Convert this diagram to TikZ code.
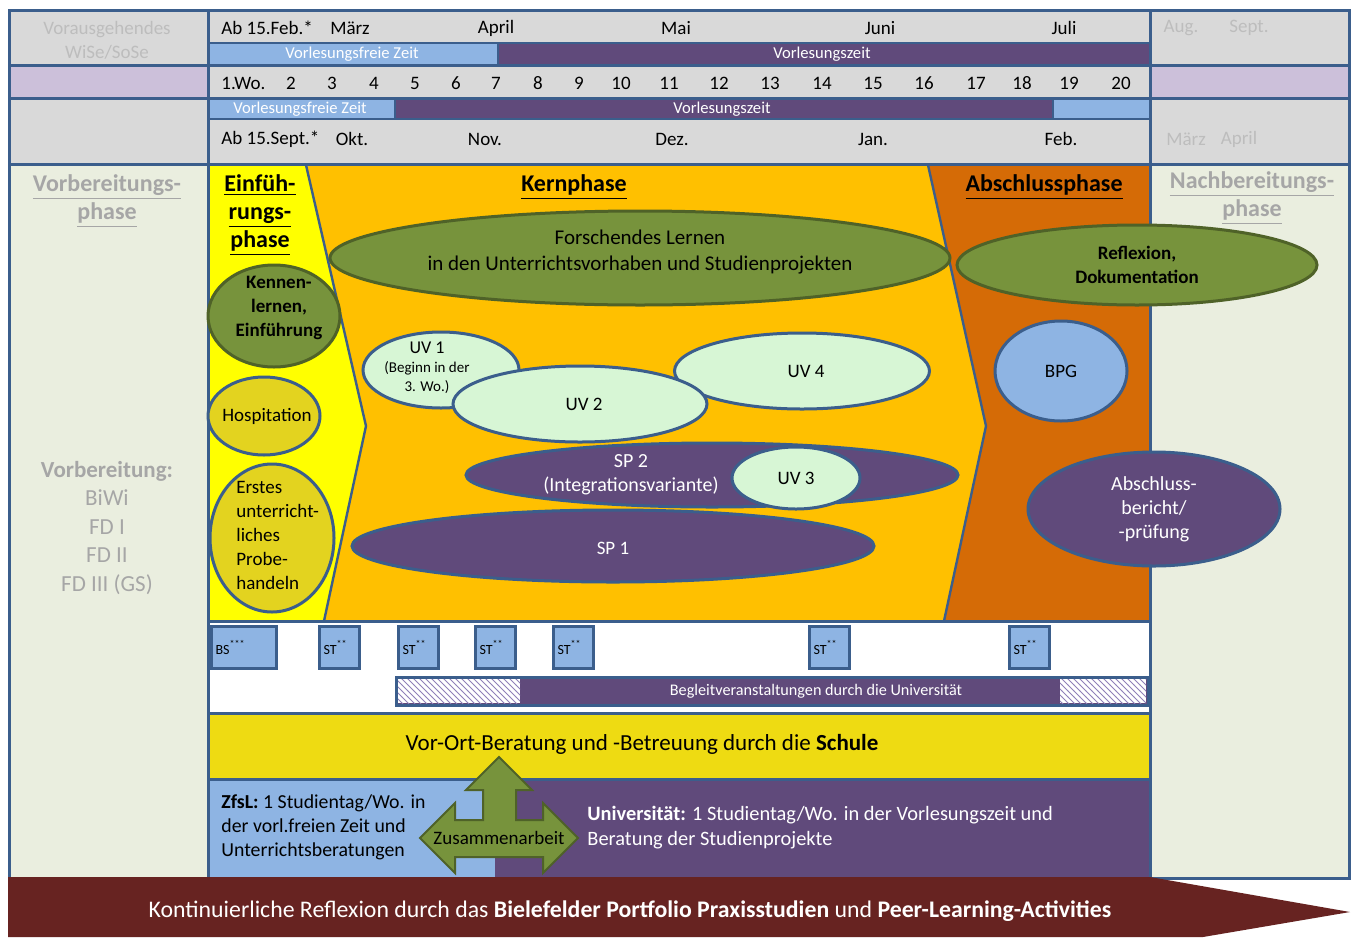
\documentclass[tikz,border=0pt]{standalone}
\usepackage{fontspec}
\setmainfont{Carlito}
\usepackage{tikz}
\usetikzlibrary{shapes.geometric, patterns}

\definecolor{rahmen}{HTML}{3B5E8C}
\definecolor{kopfgrau}{HTML}{D9D9D9}
\definecolor{seite}{HTML}{EAEEDF}
\definecolor{flieder}{HTML}{CCC0DA}
\definecolor{hellblau}{HTML}{8EB4E3}
\definecolor{lila}{HTML}{604A7B}
\definecolor{einfgelb}{HTML}{FFFF00}
\definecolor{kernorange}{HTML}{FFC000}
\definecolor{abschlussorange}{HTML}{D56B06}
\definecolor{gruen}{HTML}{77933C}
\definecolor{gruenrand}{HTML}{4F6228}
\definecolor{mint}{HTML}{D7F6D5}
\definecolor{ocker}{HTML}{E3D31F}
\definecolor{schulgelb}{HTML}{EEDB12}
\definecolor{dunkelrot}{HTML}{672321}
\definecolor{grautext}{HTML}{A6A6A6}
\definecolor{hellgrautext}{HTML}{BDBDBD}
\definecolor{schraffur}{HTML}{8F80B8}

\begin{document}
\begin{tikzpicture}[x = 0.5pt, y = -0.5pt,
    every node/.style = { inner sep = 0pt, align = center, font = \fontsize{9.5}{11.5}\selectfont },
    rand/.style = { draw = rahmen, line width = 1.5pt },
    blase/.style = { shape = ellipse, draw = rahmen, line width = 1.5pt, inner sep = 0pt },
    gblase/.style = { blase, draw = gruenrand, fill = gruen },
    kasten/.style = { draw = rahmen, line width = 1.5pt, fill = hellblau, inner xsep = 2pt,
      minimum height = 21pt, text width = 16pt, align = left, font = \fontsize{7}{8}\selectfont },
    balkentext/.style = { text = white, font = \fontsize{8.3}{10}\selectfont },
    grau/.style = { text = grautext },
    titel/.style = { font = \fontsize{12}{14}\selectfont\bfseries }
  ]
  \useasboundingbox (0,0) rectangle (1352,937);
  \fill[white] (0,0) rectangle (1352,937);

  \fill[kopfgrau] (9,10) rectangle (1349,164);
  \fill[flieder] (9,66) rectangle (208,98);
  \fill[flieder] (1150,66) rectangle (1349,98);
  \fill[seite] (9,165) rectangle (208,878);
  \fill[seite] (1150,165) rectangle (1349,878);

  \filldraw[hellblau, draw = rahmen, line width = 0.8pt] (209,43) rectangle (498,65);
  \filldraw[lila, draw = rahmen, line width = 0.8pt] (498,43) rectangle (1150,65);
  \filldraw[hellblau, draw = rahmen, line width = 0.8pt] (209,99) rectangle (395,119);
  \filldraw[lila, draw = rahmen, line width = 0.8pt] (395,99) rectangle (1053,119);
  \filldraw[hellblau, draw = rahmen, line width = 0.8pt] (1053,99) rectangle (1150,119);

  \fill[einfgelb] (209,165) -- (306,165) -- (366,426) -- (324,621) -- (209,621) -- cycle;
  \fill[kernorange] (306,165) -- (928,165) -- (986,426) -- (944,621) -- (324,621) -- (366,426) -- cycle;
  \fill[abschlussorange] (928,165) -- (1150,165) -- (1150,621) -- (944,621) -- (986,426) -- cycle;
  \draw[rahmen, line width = 1.2pt] (306,165) -- (366,426) -- (324,621);
  \draw[rahmen, line width = 1.2pt] (928,165) -- (986,426) -- (944,621);

  \fill[schulgelb] (209,714) rectangle (1150,779);
  \fill[hellblau] (209,779) rectangle (495,877);
  \fill[lila] (495,779) rectangle (1150,877);

  \filldraw[lila, draw = rahmen, line width = 1.5pt] (396,677) rectangle (1148,705);
  \fill[white] (398,679) rectangle (520,703);
  \fill[pattern = north west lines, pattern color = schraffur] (398,679) rectangle (520,703);
  \fill[white] (1060,679) rectangle (1146,703);
  \fill[pattern = north west lines, pattern color = schraffur] (1060,679) rectangle (1146,703);

  \draw[rand] (9,10) rectangle (1349,878);
  \draw[rand] (9,65.5) -- (1349,65.5);
  \draw[rand] (9,98.5) -- (1349,98.5);
  \draw[rand] (9,164.5) -- (1349,164.5);
  \draw[rand] (208.5,10) -- (208.5,878);
  \draw[rand] (1150.5,10) -- (1150.5,878);
  \draw[rand] (208.5,621) -- (1150.5,621);
  \draw[rand] (208.5,713) -- (1150.5,713);
  \draw[rand] (208.5,779) -- (1150.5,779);

  \fill[dunkelrot] (8,877) -- (1150,877) -- (1350,912) -- (1203,937) -- (8,937) -- cycle;

  \node[text = hellgrautext, font = \fontsize{9.5}{12}\selectfont] (vorausgehend) at (107,40) {Vorausgehendes\\WiSe/SoSe};
  \node[text = hellgrautext] (aug) at (1181,28) {Aug.};
  \node[text = hellgrautext] (sept) at (1249,28) {Sept.};
  \node[text = hellgrautext] (maerz2) at (1186,139) {März};
  \node[text = hellgrautext] (april2) at (1239,139) {April};

  \node[anchor = west] (ab-feb) at (221,28) {Ab 15.Feb.*};
  \foreach \mon/\txt/\xpos in {mrz/März/350, apr/April/496, mai/Mai/676, jun/Juni/880, jul/Juli/1064}
    \node (monat-\mon) at (\xpos,28) {\txt};
  \node[balkentext] (frei-oben) at (352,54) {Vorlesungsfreie Zeit};
  \node[balkentext] (vl-oben) at (822,54) {Vorlesungszeit};

  \node[anchor = west] (woche1) at (221,83) {1.Wo.};
  \foreach \nr/\xpos in {2/291, 3/332, 4/374, 5/415, 6/456, 7/496, 8/538, 9/579, 10/621, 11/669,
      12/719, 13/770, 14/822, 15/873, 16/924, 17/976, 18/1022, 19/1069, 20/1121}
    \node (woche\nr) at (\xpos,83) {\nr};

  \node[balkentext] (frei-unten) at (300,109) {Vorlesungsfreie Zeit};
  \node[balkentext] (vl-unten) at (722,109) {Vorlesungszeit};
  \node[anchor = west] (ab-sept) at (221,139) {Ab 15.Sept.*};
  \foreach \mon/\txt/\xpos in {okt/Okt./352, nov/Nov./485, dez/Dez./672, jan/Jan./873, feb/Feb./1061}
    \node (monat-\mon) at (\xpos,139) {\txt};

  \node[grau, titel] (vorbereitungsphase) at (107,201) {\underline{Vorbereitungs-}\\\underline{phase}};
  \node[grau, titel] (nachbereitungsphase) at (1252,198) {\underline{Nachbereitungs-}\\\underline{phase}};
  \node[grau, font = \fontsize{11.5}{14.25}\selectfont] (vorbereitung) at (107,528)
    {\textbf{Vorbereitung:}\\BiWi\\FD I\\FD II\\FD III (GS)};

  \node[titel] (einfuehrung) at (260,215) {\underline{Einfüh-}\\\underline{rungs-}\\\underline{phase}};
  \node[titel] (kernphase) at (574,187) {\underline{Kernphase}};
  \node[titel] (abschlussphase) at (1044,187) {\underline{Abschlussphase}};

  \node[gblase, minimum width = 310pt, minimum height = 47pt,
    label = {[yshift = 3pt, font = \fontsize{10.5}{13}\selectfont]center:{Forschendes Lernen\\in den Unterrichtsvorhaben und Studienprojekten}}]
    (forschen) at (640,258) {};
  \node[gblase, minimum width = 180pt, minimum height = 40pt,
    label = {[font = \fontsize{9.5}{12}\selectfont\bfseries]center:{Reflexion,\\Dokumentation}}]
    (reflexion) at (1137,265) {};
  \node[gblase, minimum width = 66pt, minimum height = 51pt,
    label = {[xshift = 2.5pt, yshift = 4pt, font = \fontsize{9.5}{11.8}\selectfont\bfseries]center:{Kennen-\\lernen,\\Einführung}}]
    (kennen) at (274,316) {};
  \node[blase, fill = ocker, minimum width = 56pt, minimum height = 39pt,
    label = {[xshift = 1.5pt]center:Hospitation}] (hospitation) at (264,416) {};
  \node[blase, fill = ocker, minimum width = 62pt, minimum height = 74pt] (probehandeln) at (272,538) {};
  \node[anchor = west, align = left, font = \fontsize{9.5}{12}\selectfont] (probehandeln-text) at (236,535)
    {Erstes\\unterricht-\\liches\\Probe-\\handeln};

  \node[blase, fill = mint, minimum width = 127.5pt, minimum height = 38pt,
    label = {[xshift = 2pt]center:UV 4}] (uv4) at (802,371) {};
  \node[blase, fill = mint, minimum width = 78pt, minimum height = 38pt,
    label = {[xshift = -7pt, yshift = 1pt, font = \fontsize{7.5}{9.5}\selectfont]center:{{\fontsize{9}{11}\selectfont UV 1}\\(Beginn in der\\3. Wo.)}}]
    (uv1) at (441,370) {};
  \node[blase, fill = mint, minimum width = 127pt, minimum height = 38pt,
    label = {[xshift = 2pt]center:UV 2}] (uv2) at (580,404) {};
  \node[blase, fill = lila, minimum width = 261pt, minimum height = 36pt,
    label = {[text = white, yshift = -1pt]center:SP 1}] (sp1) at (613,546) {};
  \node[blase, fill = lila, minimum width = 246pt, minimum height = 32pt,
    label = {[text = white, xshift = -40.5pt, font = \fontsize{10}{12}\selectfont]center:{SP 2\\(Integrationsvariante)}}]
    (sp2) at (712,475) {};
  \node[blase, fill = mint, minimum width = 64pt, minimum height = 31pt,
    label = {center:UV 3}] (uv3) at (796,478) {};

  \node[blase, fill = hellblau, minimum width = 66pt, minimum height = 50pt,
    label = {center:BPG}] (bpg) at (1061,371) {};
  \node[blase, fill = lila, minimum width = 126pt, minimum height = 57pt,
    label = {[text = white, font = \fontsize{10}{12}\selectfont]center:{Abschluss-\\bericht/\\-prüfung}}]
    (abschlussbericht) at (1154,509) {};

  \node[kasten, anchor = north west, text width = 28.5pt] (bs) at (210,625) {BS\textsuperscript{***}};
  \foreach \i/\xpos in {1/318, 2/397, 3/474, 4/552, 5/808, 6/1008}
    \node[kasten, anchor = north west] (st\i) at (\xpos,625) {ST\textsuperscript{**}};
  \node[text = white, font = \fontsize{8.1}{9.5}\selectfont] (begleit) at (816,691)
    {Begleitveranstaltungen durch die Universität};

  \node[font = \fontsize{11.5}{13}\selectfont] (schule) at (642,744)
    {Vor-Ort-Beratung und -Betreuung durch die \textbf{Schule}};

  \filldraw[fill = gruen, draw = gruenrand, line width = 1pt]
    (499,757) -- (532,790) -- (516,790) -- (516,820) -- (543,820) -- (543,803) -- (578,838)
    -- (543,873) -- (543,857) -- (455,857) -- (455,873) -- (420,838) -- (455,803)
    -- (455,820) -- (483,820) -- (483,790) -- (466,790) -- cycle;
  \node (zusammenarbeit) at (499,838) {Zusammenarbeit};

  \node[anchor = west, align = left, font = \fontsize{9.9}{12}\selectfont] (zfsl) at (221,827)
    {\textbf{ZfsL:} 1 Studientag/Wo. in\\der vorl.freien Zeit und\\Unterrichtsberatungen};
  \node[anchor = west, align = left, text = white, font = \fontsize{10.2}{12.5}\selectfont] (uni) at (587,828)
    {\textbf{Universität:} 1 Studientag/Wo. in der Vorlesungszeit und\\Beratung der Studienprojekte};

  \node[text = white, font = \fontsize{11.9}{13}\selectfont] (reflexion-pfeil) at (630,911)
    {Kontinuierliche Reflexion durch das \textbf{Bielefelder Portfolio Praxisstudien} und \textbf{Peer-Learning-Activities}};
\end{tikzpicture}
\end{document}
